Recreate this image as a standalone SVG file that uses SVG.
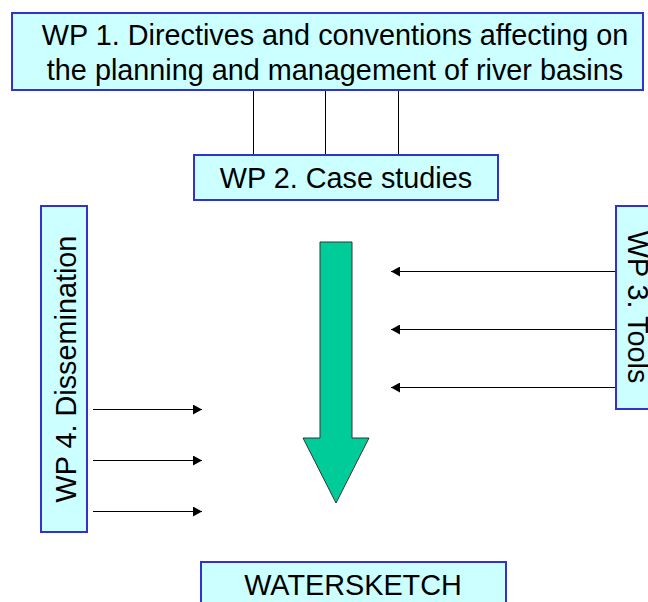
<svg xmlns="http://www.w3.org/2000/svg" width="648" height="602" viewBox="0 0 648 602">
<style>
.box{fill:#CCFFFF;stroke:#3333CC;stroke-width:2}
.t{font-family:"Liberation Sans",Arial,sans-serif;font-size:28.8px;fill:#000;text-anchor:middle}
.c{stroke:#000;stroke-width:1;fill:none}
</style>
<defs>
<marker id="ah" markerWidth="10" markerHeight="10" refX="9" refY="5" orient="auto" markerUnits="userSpaceOnUse">
<path d="M0,0 L9,5 L0,10 Z" fill="#000"/>
</marker>
</defs>
<rect width="648" height="602" fill="#fff"/>
<g id="connectors">
<line class="c" x1="253.5" y1="90" x2="253.5" y2="155"/>
<line class="c" x1="325.5" y1="90" x2="325.5" y2="155"/>
<line class="c" x1="398.5" y1="90" x2="398.5" y2="155"/>
<line class="c" x1="93" y1="409.5" x2="202" y2="409.5" marker-end="url(#ah)"/>
<line class="c" x1="93" y1="460.5" x2="202" y2="460.5" marker-end="url(#ah)"/>
<line class="c" x1="93" y1="511.5" x2="202" y2="511.5" marker-end="url(#ah)"/>
<line class="c" x1="616" y1="271.5" x2="391" y2="271.5" marker-end="url(#ah)"/>
<line class="c" x1="616" y1="329.5" x2="391" y2="329.5" marker-end="url(#ah)"/>
<line class="c" x1="616" y1="387.5" x2="391" y2="387.5" marker-end="url(#ah)"/>
</g>
<g id="wp1">
<rect class="box" x="12" y="13" width="631" height="77"/>
<text class="t" x="335" y="45">WP 1. Directives and conventions affecting on</text>
<text class="t" x="335" y="80">the planning and management of river basins</text>
</g>
<g id="wp2">
<rect class="box" x="194" y="155" width="304" height="45"/>
<text class="t" x="346" y="188">WP 2. Case studies</text>
</g>
<g id="wp4">
<rect class="box" x="41" y="206" width="46" height="326"/>
<text class="t" transform="translate(76,369) rotate(-90)">WP 4. Dissemination</text>
</g>
<g id="wp3">
<rect class="box" x="616" y="206" width="40" height="203"/>
<text class="t" transform="translate(628,307) rotate(90)">WP 3. Tools</text>
</g>
<g id="flow">
<path d="M320,242 L352,242 L352,438 L369,438 L336,503 L303,438 L320,438 Z" fill="#00CC99" stroke="#333" stroke-width="1"/>
</g>
<g id="watersketch">
<rect class="box" x="201" y="562" width="305" height="50"/>
<text class="t" x="353" y="595">WATERSKETCH</text>
</g>
</svg>
